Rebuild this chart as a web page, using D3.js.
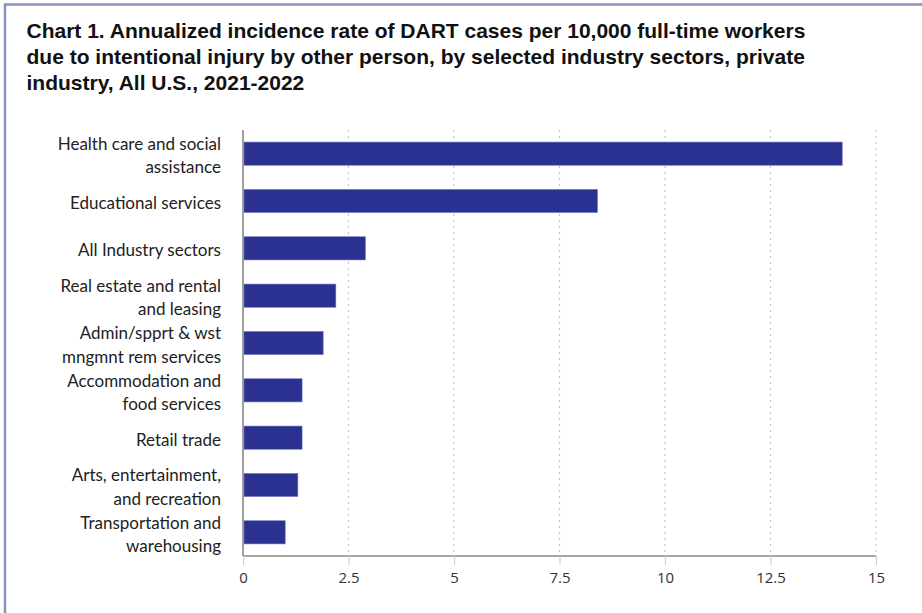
<!DOCTYPE html>
<html>
<head>
<meta charset="utf-8">
<script src="https://cdn.jsdelivr.net/npm/d3@7"></script>
<style>
  html, body { margin: 0; padding: 0; background: #fff; }
  svg { display: block; }
</style>
</head>
<body>
<svg id="chart" width="922" height="613"></svg>
<script>
const titleLines = [
  "Chart 1. Annualized incidence rate of DART cases per 10,000 full-time workers",
  "due to intentional injury by other person, by selected industry sectors, private",
  "industry, All U.S., 2021-2022"
];
const categories = [
  ["Health care and social", "assistance"],
  ["Educational services"],
  ["All Industry sectors"],
  ["Real estate and rental", "and leasing"],
  ["Admin/spprt & wst", "mngmnt rem services"],
  ["Accommodation and", "food services"],
  ["Retail trade"],
  ["Arts, entertainment,", "and recreation"],
  ["Transportation and", "warehousing"]
];
const values = [14.2, 8.4, 2.9, 2.2, 1.9, 1.4, 1.4, 1.3, 1.0];
const tickValues = [0, 2.5, 5, 7.5, 10, 12.5, 15];
const tickLabels = ["0", "2.5", "5", "7.5", "10", "12.5", "15"];

(function () {
const svg = d3.select("#chart");
const W = 922, H = 613;

// frame border
svg.append("rect")
  .attr("x", 5).attr("y", 4.5)
  .attr("width", W + 20).attr("height", H + 20)
  .attr("fill", "#fff")
  .attr("stroke", "#8793bd").attr("stroke-width", 2.5);

// title
const title = svg.append("text")
  .attr("font-family", "'Liberation Sans', Arial, sans-serif")
  .attr("font-weight", "bold")
  .attr("font-size", 21)
  .attr("fill", "#111");
titleLines.forEach((t, i) => {
  title.append("tspan").attr("x", 26.5).attr("y", 37.5 + i * 26).text(t);
});

const pLeft = 243, pRight = 876, pTop = 130, pBottom = 556;
const keys = categories.map((d, i) => i);
const x = d3.scaleLinear().domain([0, 15]).range([pLeft, pRight]);
const y = d3.scaleBand().domain(keys).range([pTop, pBottom]).paddingInner(0.51).paddingOuter(0.255);

// gridlines
svg.append("g").selectAll("line").data(tickValues.filter(v => v > 0)).join("line")
  .attr("x1", d => x(d)).attr("x2", d => x(d))
  .attr("y1", pTop).attr("y2", pBottom)
  .attr("stroke", "#c4c4c4").attr("stroke-width", 1.2)
  .attr("stroke-dasharray", "2,4");

// bars
svg.append("g").selectAll("rect").data(values).join("rect")
  .attr("x", x(0) + 1)
  .attr("y", (d, i) => y(i))
  .attr("width", d => x(d) - x(0) - 1)
  .attr("height", y.bandwidth())
  .attr("fill", "#2b3191")
  .attr("stroke", "#7177c0").attr("stroke-width", 0.6);

// x axis
const xAxis = d3.axisBottom(x).tickValues(tickValues)
  .tickFormat((d, i) => tickLabels[i]).tickSize(9).tickPadding(7);
const gx = svg.append("g").attr("transform", `translate(0,${pBottom})`).call(xAxis);
gx.select(".domain").attr("stroke", "#888").attr("stroke-width", 1.6).attr("d", `M${pLeft},0H${pRight}`);
gx.selectAll(".tick line").attr("stroke", "#cfcfcf").attr("stroke-width", 1.2);
gx.selectAll(".tick text")
  .attr("font-family", "'Open Sans', sans-serif")
  .attr("font-size", 15).attr("fill", "#333");

// y axis line
svg.append("line")
  .attr("x1", pLeft).attr("x2", pLeft).attr("y1", pTop).attr("y2", pBottom)
  .attr("stroke", "#888").attr("stroke-width", 1.6);

// category labels
const lab = svg.append("g")
  .attr("font-family", "Lato, 'Open Sans', sans-serif")
  .attr("font-size", 17).attr("fill", "#222")
  .attr("text-anchor", "end");
categories.forEach((lines, i) => {
  const cy = y(i) + y.bandwidth() / 2;
  const lh = 23.5;
  const t = lab.append("text").attr("x", 221);
  lines.forEach((l, j) => {
    const off = (j - (lines.length - 1) / 2) * lh;
    t.append("tspan").attr("x", 221).attr("y", cy + off + 8).text(l);
  });
});
})();
</script>
</body>
</html>
